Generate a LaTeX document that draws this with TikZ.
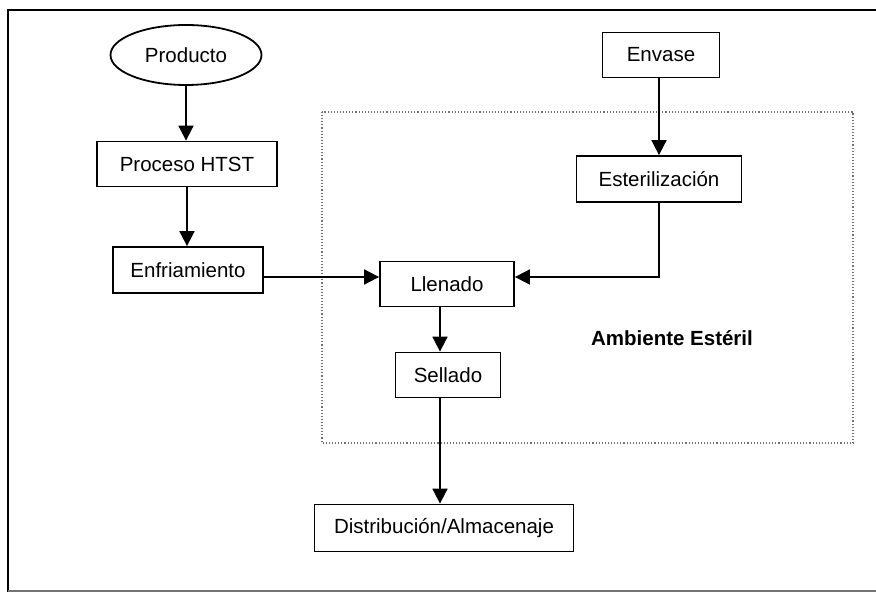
\documentclass[tikz,border=0pt]{standalone}
\usepackage{fontspec}
\setmainfont{Liberation Sans}
\usetikzlibrary{arrows.meta,shapes.geometric}
\begin{document}
\begin{tikzpicture}[x=1pt,y=-1pt,
  box/.style={draw=black,line width=1.8pt,inner sep=0pt,minimum height=45pt,font=\fontsize{20.5}{24}\selectfont},
  oval/.style={draw=black,line width=1.8pt,ellipse,inner sep=0pt,minimum width=151pt,minimum height=60pt,font=\fontsize{20.5}{24}\selectfont},
  arr/.style={line width=1.8pt,-{Triangle[length=15pt,width=15pt]}},
  lbl/.style={font=\bfseries\fontsize{20.5}{24}\selectfont}]
\useasboundingbox (0,0) rectangle (876,593);
\begin{scope}
\clip (0,0) rectangle (876,593);
\draw[line width=2.6pt] (900,10) -- (8,10) -- (8,592);
\draw[line width=1.2pt,black!55] (8,591) -- (900,591);
\end{scope}
% dotted sterile region
\draw[black!55,dotted,line width=1.1pt] (322,112) rectangle (853,443);
\node[lbl] (amb) at (672,338) {Ambiente Estéril};
% nodes
\node[oval] (prod) at (186,55) {Producto};
\node[box,minimum width=180pt] (htst) at (187,164) {Proceso HTST};
\node[box,minimum width=150pt,minimum height=46pt] (enf) at (188,270) {Enfriamiento};
\node[box,minimum width=117pt] (env) at (661,55) {Envase};
\node[box,minimum width=165pt,minimum height=46pt] (est) at (659,179) {Esterilización};
\node[box,minimum width=134pt] (llen) at (447,284) {Llenado};
\node[box,minimum width=105pt] (sel) at (448,375) {Sellado};
\node[box,minimum width=259pt,minimum height=47pt] (dist) at (444,528) {Distribución/Almacenaje};
% helper coordinates
\coordinate (j) at (659,277);
\coordinate (k) at (440,0);
% connectors
\draw[arr] (prod.south) -- (htst.north -| prod.south);
\draw[arr] (htst.south) -- (enf.north -| htst.south);
\draw[arr] (enf.east |- j) -- (llen.west |- j);
\draw[arr] (env.south -| est.north) -- (est.north);
\draw[arr] (est.south) -- (j) -- (llen.east |- j);
\draw[arr] (llen.south -| k) -- (sel.north -| k);
\draw[arr] (sel.south -| k) -- (dist.north -| k);
\end{tikzpicture}
\end{document}
